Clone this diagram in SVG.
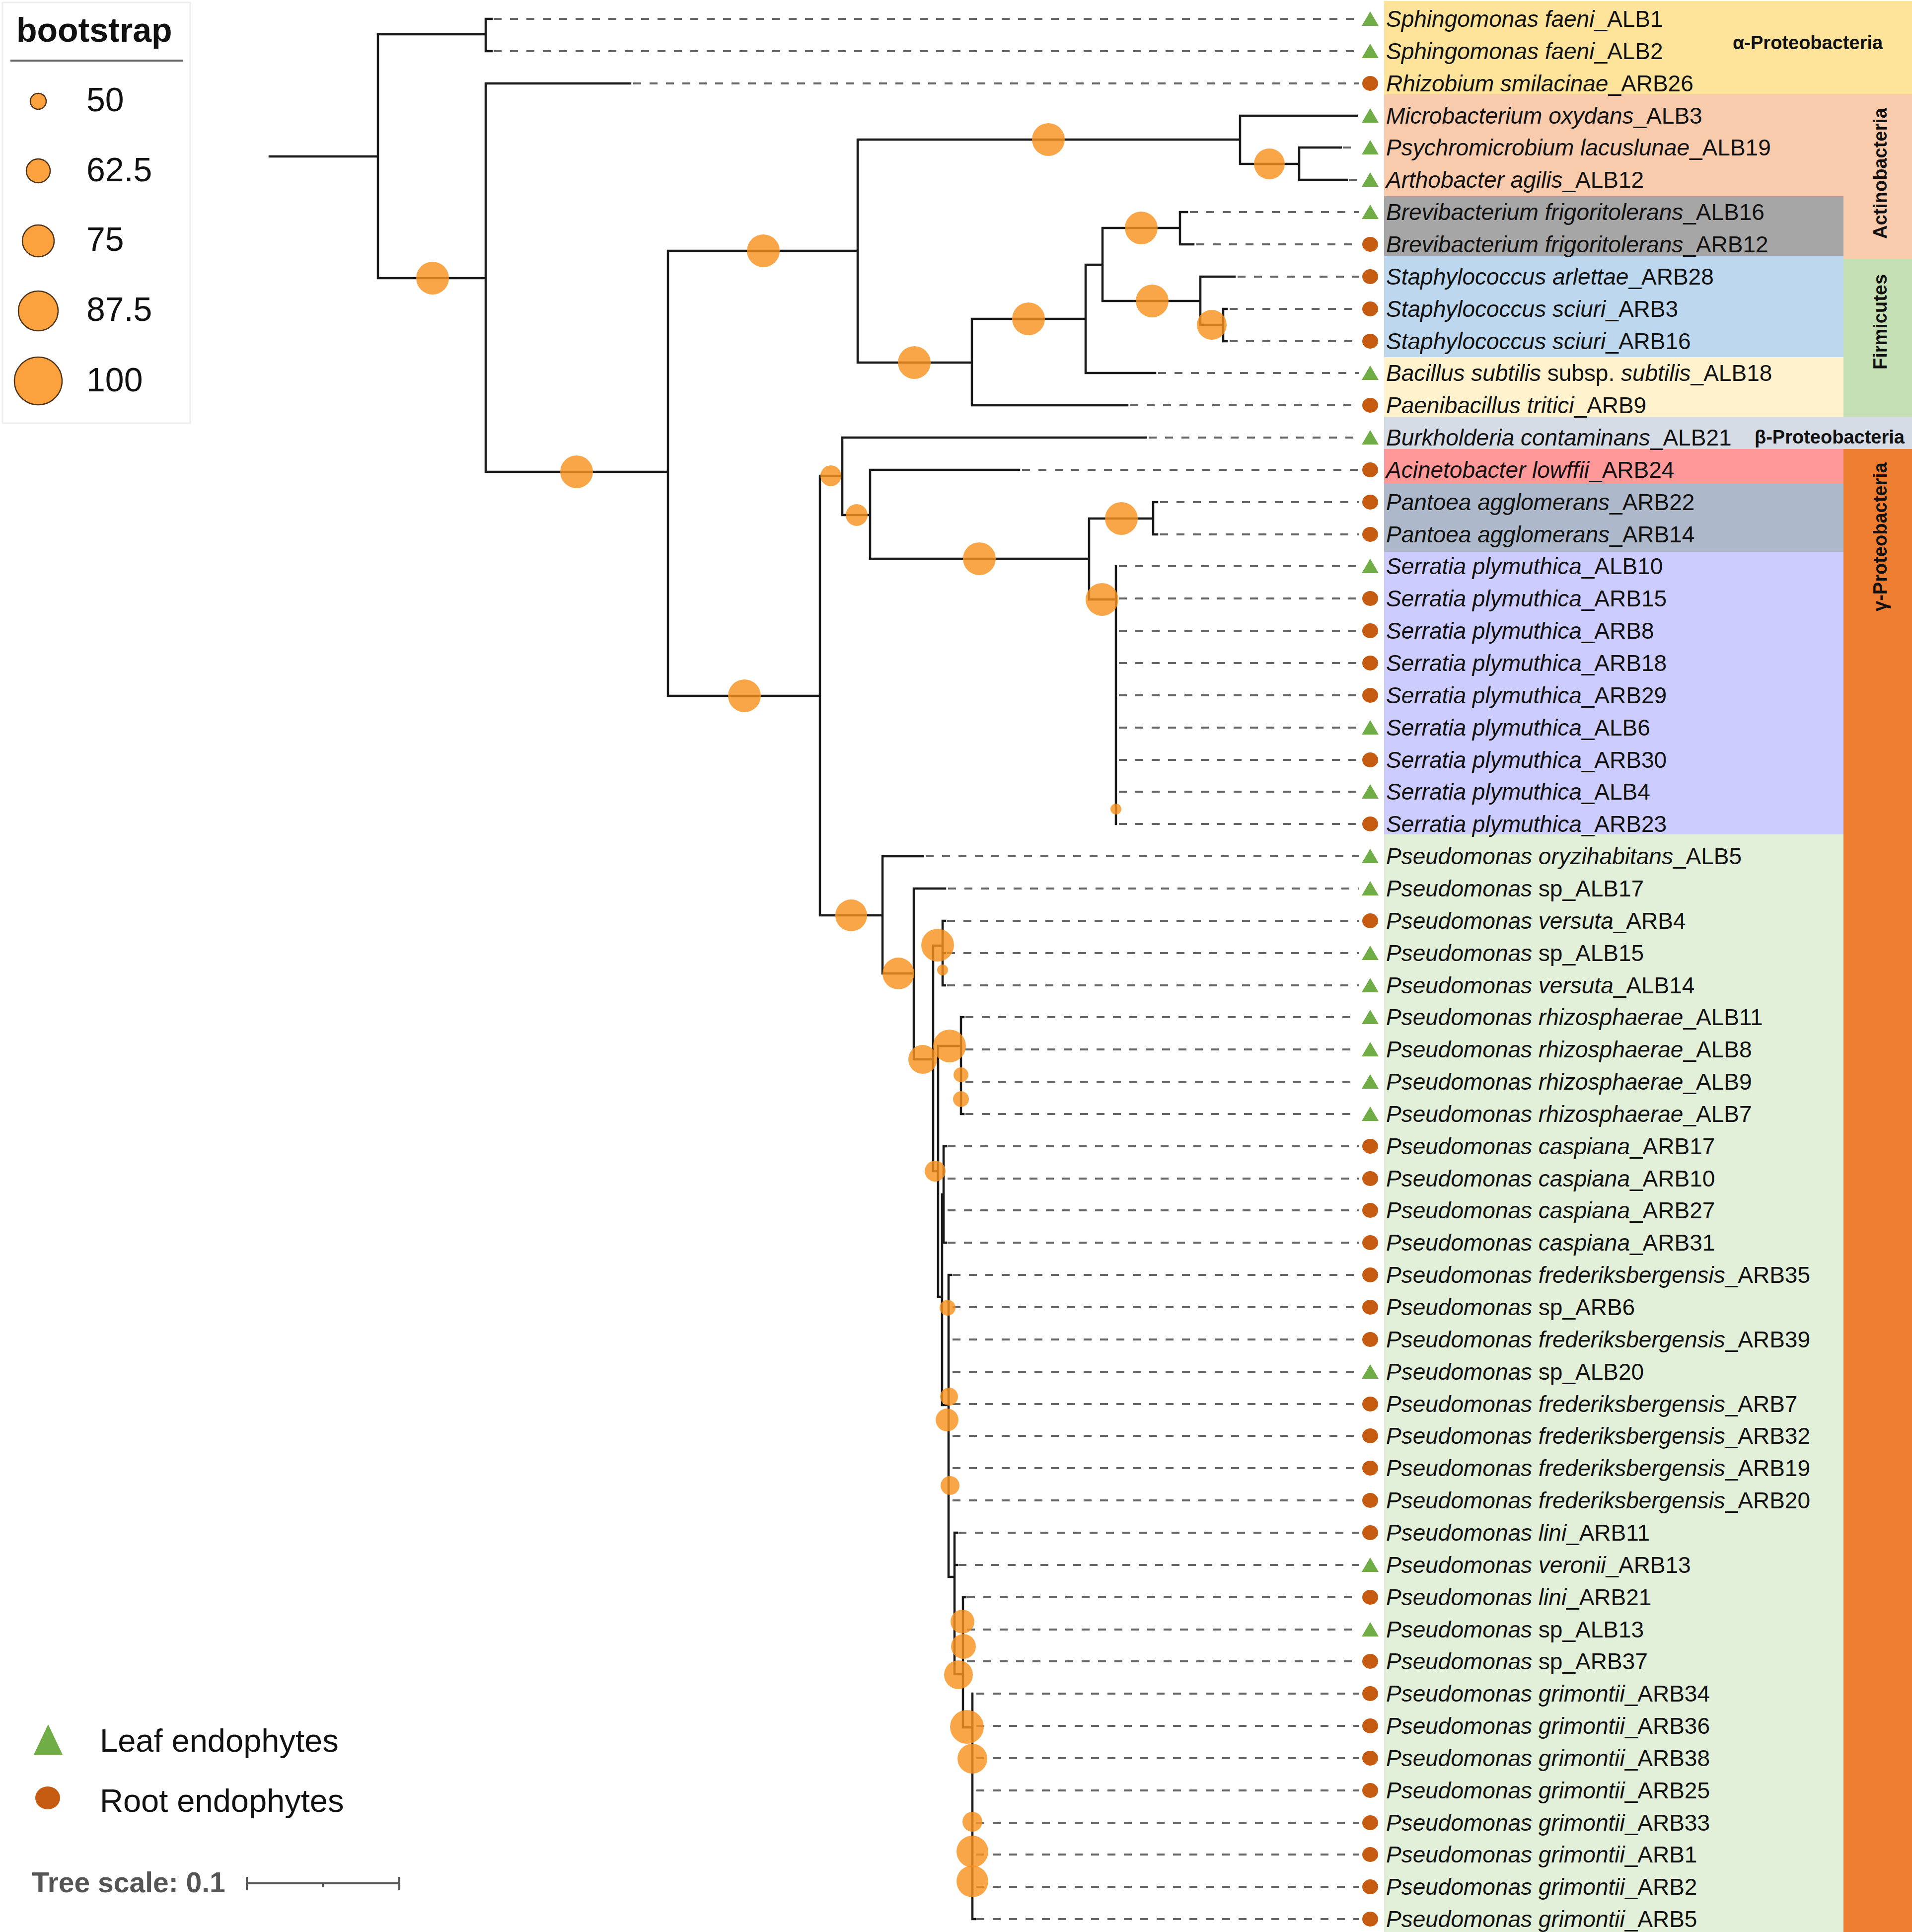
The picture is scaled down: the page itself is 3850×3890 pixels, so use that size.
<svg xmlns="http://www.w3.org/2000/svg" xmlns:xlink="http://www.w3.org/1999/xlink" width="3850" height="3890" viewBox="0 0 3850 3890">
<style>
.br{stroke:#1a1a1a;stroke-width:4.5;fill:none;stroke-linecap:square}
.dash{stroke:#666;stroke-width:4;stroke-dasharray:16 17;fill:none}
.bs{fill:#f7931e;fill-opacity:0.82}
.lf{fill:#70ad47}
.rt{fill:#c55a11}
.lab{font-family:"Liberation Sans",Arial,sans-serif;font-size:46px;fill:#111}
.i{font-style:italic}
.clade{font-family:"Liberation Sans",Arial,sans-serif;font-weight:bold;font-size:38px;fill:#111}
.leg{font-family:"Liberation Sans",Arial,sans-serif;font-size:68px;fill:#111}
.lgc{fill:#fba23f;stroke:#4d3319;stroke-width:2.5}
</style>
<defs>
<path id="tri" d="M0,-15 L17,14 L-17,14 Z"/>
<ellipse id="dot" cx="0" cy="0" rx="16" ry="15"/>
</defs>
<rect width="3850" height="3890" fill="#ffffff"/>

<g id="bands">
<rect x="2787" y="2" width="1063" height="188" fill="#fee49a"/>
<rect x="2787" y="190" width="1063" height="205" fill="#f8cbad"/>
<rect x="3712" y="395" width="138" height="127" fill="#f8cbad"/>
<rect x="2787" y="395" width="925" height="120" fill="#a6a6a6"/>
<rect x="2787" y="515" width="925" height="204" fill="#bdd7ee"/>
<rect x="2787" y="719" width="925" height="120" fill="#fff2cc"/>
<rect x="3712" y="522" width="138" height="317" fill="#c5e0b4"/>
<rect x="2787" y="839" width="1063" height="65" fill="#d6dce5"/>
<rect x="2787" y="904" width="925" height="69" fill="#ff9999"/>
<rect x="2787" y="973" width="925" height="138" fill="#adb9ca"/>
<rect x="2787" y="1111" width="925" height="569" fill="#ccccff"/>
<rect x="2787" y="1680" width="925" height="2210" fill="#e2f0d9"/>
<rect x="3712" y="904" width="138" height="2986" fill="#ed7d31"/>
<text class="clade" x="3489" y="99">α-Proteobacteria</text>
<text class="clade" transform="translate(3799,349) rotate(-90)" text-anchor="middle" font-size="36">Actinobacteria</text>
<text class="clade" transform="translate(3799,648) rotate(-90)" text-anchor="middle" font-size="37">Firmicutes</text>
<text class="clade" x="3533" y="893">β-Proteobacteria</text>
<text class="clade" transform="translate(3799,1081) rotate(-90)" text-anchor="middle">γ-Proteobacteria</text>
</g>

<g id="connectors">
<path class="br" d="M543,315 H761 M761,69 V560 M761,69 H978 M978,38 V103 M978,38 H990 M978,103 H990 M761,560 H978 M978,168 V950 M978,168 H1269 M978,950 H1345 M1345,505 V1401 M1345,505 H1727 M1727,281 V730 M1727,281 H2497 M2497,233 V330 M2497,233 H2732 M2497,330 H2616 M2616,297 V362 M2616,297 H2700 M2616,362 H2712 M1727,730 H1957 M1957,642 V816 M1957,816 H2270 M1957,642 H2186 M2186,533 V751 M2186,751 H2326 M2186,533 H2220 M2220,459 V606 M2220,459 H2376 M2376,427 V492 M2376,427 H2390 M2376,492 H2403 M2220,606 H2417 M2417,557 V654 M2417,557 H2486 M2417,654 H2463 M2463,622 V687 M2463,622 H2470 M2463,687 H2470 M1345,1401 H1651 M1651,958 V1843 M1651,958 H1696 M1696,881 V1037 M1696,881 H2307 M1696,1037 H1752 M1752,946 V1125 M1752,946 H2052 M1752,1125 H2193 M2193,1044 V1207 M2193,1044 H2322 M2322,1011 V1076 M2322,1011 H2330 M2322,1076 H2330 M2193,1207 H2247 M2247,1140 V1659 M1651,1843 H1777 M1777,1724 V1960 M1777,1724 H1858 M1777,1960 H1840 M1840,1789 V2133 M1840,1789 H1903 M1840,2133 H1879 M1879,1904 V2358 M1879,1904 H1898 M1898,1854 V1984 M1898,1854 H1903 M1898,1919 H1903 M1898,1984 H1903 M1879,2358 H1889 M1889,2106 V2611 M1889,2106 H1935 M1935,2048 V2243 M1935,2048 H1940 M1935,2243 H1940 M1889,2611 H1897 M1897,2405 V2829 M1897,2405 H1900 M1900,2308 V2502 M1900,2308 H1905 M1900,2502 H1905 M1897,2829 H1910 M1910,2567 V3175 M1910,2567 H1915 M1910,3175 H1922 M1922,3086 V3371 M1922,3086 H1927 M1922,3151 H1927 M1922,3371 H1939 M1939,3216 V3478 M1939,3216 H1944 M1939,3478 H1958 M1958,3410 V3864 M1958,3864 H1963"/>
<path class="dash" d="M994,38 H2736 M994,103 H2736 M1275,168 H2736 M2704,297 H2736 M2716,362 H2736 M2396,427 H2736 M2409,492 H2736 M2492,557 H2736 M2476,622 H2736 M2476,687 H2736 M2332,751 H2736 M2276,816 H2736 M2313,881 H2736 M2058,946 H2736 M2336,1011 H2736 M2336,1076 H2736 M2253,1140 H2736 M2253,1205 H2736 M2253,1270 H2736 M2253,1335 H2736 M2253,1400 H2736 M2253,1465 H2736 M2253,1530 H2736 M2253,1594 H2736 M2253,1659 H2736 M1864,1724 H2736 M1909,1789 H2736 M1907,1854 H2736 M1907,1919 H2736 M1907,1984 H2736 M1944,2048 H2736 M1944,2113 H2736 M1944,2178 H2736 M1944,2243 H2736 M1908,2308 H2736 M1908,2373 H2736 M1908,2437 H2736 M1908,2502 H2736 M1918,2567 H2736 M1918,2632 H2736 M1918,2697 H2736 M1918,2762 H2736 M1918,2827 H2736 M1918,2891 H2736 M1918,2956 H2736 M1918,3021 H2736 M1930,3086 H2736 M1930,3151 H2736 M1947,3216 H2736 M1947,3281 H2736 M1947,3345 H2736 M1966,3410 H2736 M1966,3475 H2736 M1966,3540 H2736 M1966,3605 H2736 M1966,3670 H2736 M1966,3734 H2736 M1966,3799 H2736 M1966,3864 H2736"/>
</g>

<g id="bootstrap-values">
<circle class="bs" cx="871" cy="560" r="33"/>
<circle class="bs" cx="1161" cy="950" r="33"/>
<circle class="bs" cx="1537" cy="505" r="33"/>
<circle class="bs" cx="2111" cy="281" r="33"/>
<circle class="bs" cx="2556" cy="330" r="31"/>
<circle class="bs" cx="1841" cy="730" r="33"/>
<circle class="bs" cx="2071" cy="642" r="33"/>
<circle class="bs" cx="2298" cy="459" r="33"/>
<circle class="bs" cx="2320" cy="606" r="33"/>
<circle class="bs" cx="2440" cy="654" r="30"/>
<circle class="bs" cx="1499" cy="1401" r="33"/>
<circle class="bs" cx="1673" cy="958" r="21"/>
<circle class="bs" cx="1725" cy="1037" r="22"/>
<circle class="bs" cx="1972" cy="1125" r="33"/>
<circle class="bs" cx="2258" cy="1044" r="33"/>
<circle class="bs" cx="2219" cy="1207" r="33"/>
<circle class="bs" cx="2247" cy="1629" r="11"/>
<circle class="bs" cx="1714" cy="1843" r="32"/>
<circle class="bs" cx="1809" cy="1960" r="32"/>
<circle class="bs" cx="1858" cy="2133" r="29"/>
<circle class="bs" cx="1888" cy="1903" r="33"/>
<circle class="bs" cx="1898" cy="1953" r="11"/>
<circle class="bs" cx="1912" cy="2106" r="33"/>
<circle class="bs" cx="1935" cy="2164" r="15"/>
<circle class="bs" cx="1935" cy="2213" r="16"/>
<circle class="bs" cx="1883" cy="2358" r="21"/>
<circle class="bs" cx="1908" cy="2633" r="16"/>
<circle class="bs" cx="1911" cy="2812" r="18"/>
<circle class="bs" cx="1907" cy="2859" r="23"/>
<circle class="bs" cx="1913" cy="2991" r="19"/>
<circle class="bs" cx="1938" cy="3265" r="24"/>
<circle class="bs" cx="1940" cy="3315" r="25"/>
<circle class="bs" cx="1930" cy="3372" r="29"/>
<circle class="bs" cx="1947" cy="3477" r="34"/>
<circle class="bs" cx="1958" cy="3541" r="30"/>
<circle class="bs" cx="1958" cy="3668" r="20"/>
<circle class="bs" cx="1958" cy="3728" r="32"/>
<circle class="bs" cx="1958" cy="3788" r="32"/>
</g>

<g id="leaf-ALB1"><use href="#tri" class="lf" x="2759" y="38"/><text class="lab" x="2791" y="54"><tspan class="i">Sphingomonas faeni</tspan>_ALB1</text></g>
<g id="leaf-ALB2"><use href="#tri" class="lf" x="2759" y="103"/><text class="lab" x="2791" y="119"><tspan class="i">Sphingomonas faeni</tspan>_ALB2</text></g>
<g id="leaf-ARB26"><use href="#dot" class="rt" x="2759" y="168"/><text class="lab" x="2791" y="184"><tspan class="i">Rhizobium smilacinae</tspan>_ARB26</text></g>
<g id="leaf-ALB3"><use href="#tri" class="lf" x="2759" y="233"/><text class="lab" x="2791" y="249"><tspan class="i">Microbacterium oxydans</tspan>_ALB3</text></g>
<g id="leaf-ALB19"><use href="#tri" class="lf" x="2759" y="297"/><text class="lab" x="2791" y="313"><tspan class="i">Psychromicrobium lacuslunae</tspan>_ALB19</text></g>
<g id="leaf-ALB12"><use href="#tri" class="lf" x="2759" y="362"/><text class="lab" x="2791" y="378"><tspan class="i">Arthobacter agilis</tspan>_ALB12</text></g>
<g id="leaf-ALB16"><use href="#tri" class="lf" x="2759" y="427"/><text class="lab" x="2791" y="443"><tspan class="i">Brevibacterium frigoritolerans</tspan>_ALB16</text></g>
<g id="leaf-ARB12"><use href="#dot" class="rt" x="2759" y="492"/><text class="lab" x="2791" y="508"><tspan class="i">Brevibacterium frigoritolerans</tspan>_ARB12</text></g>
<g id="leaf-ARB28"><use href="#dot" class="rt" x="2759" y="557"/><text class="lab" x="2791" y="573"><tspan class="i">Staphylococcus arlettae</tspan>_ARB28</text></g>
<g id="leaf-ARB3"><use href="#dot" class="rt" x="2759" y="622"/><text class="lab" x="2791" y="638"><tspan class="i">Staphylococcus sciuri</tspan>_ARB3</text></g>
<g id="leaf-ARB16"><use href="#dot" class="rt" x="2759" y="687"/><text class="lab" x="2791" y="703"><tspan class="i">Staphylococcus sciuri</tspan>_ARB16</text></g>
<g id="leaf-ALB18"><use href="#tri" class="lf" x="2759" y="751"/><text class="lab" x="2791" y="767"><tspan class="i">Bacillus subtilis</tspan> subsp. <tspan class="i">subtilis</tspan>_ALB18</text></g>
<g id="leaf-ARB9"><use href="#dot" class="rt" x="2759" y="816"/><text class="lab" x="2791" y="832"><tspan class="i">Paenibacillus tritici</tspan>_ARB9</text></g>
<g id="leaf-ALB21"><use href="#tri" class="lf" x="2759" y="881"/><text class="lab" x="2791" y="897"><tspan class="i">Burkholderia contaminans</tspan>_ALB21</text></g>
<g id="leaf-ARB24"><use href="#dot" class="rt" x="2759" y="946"/><text class="lab" x="2791" y="962"><tspan class="i">Acinetobacter lowffii</tspan>_ARB24</text></g>
<g id="leaf-ARB22"><use href="#dot" class="rt" x="2759" y="1011"/><text class="lab" x="2791" y="1027"><tspan class="i">Pantoea agglomerans</tspan>_ARB22</text></g>
<g id="leaf-ARB14"><use href="#dot" class="rt" x="2759" y="1076"/><text class="lab" x="2791" y="1092"><tspan class="i">Pantoea agglomerans</tspan>_ARB14</text></g>
<g id="leaf-ALB10"><use href="#tri" class="lf" x="2759" y="1140"/><text class="lab" x="2791" y="1156"><tspan class="i">Serratia plymuthica</tspan>_ALB10</text></g>
<g id="leaf-ARB15"><use href="#dot" class="rt" x="2759" y="1205"/><text class="lab" x="2791" y="1221"><tspan class="i">Serratia plymuthica</tspan>_ARB15</text></g>
<g id="leaf-ARB8"><use href="#dot" class="rt" x="2759" y="1270"/><text class="lab" x="2791" y="1286"><tspan class="i">Serratia plymuthica</tspan>_ARB8</text></g>
<g id="leaf-ARB18"><use href="#dot" class="rt" x="2759" y="1335"/><text class="lab" x="2791" y="1351"><tspan class="i">Serratia plymuthica</tspan>_ARB18</text></g>
<g id="leaf-ARB29"><use href="#dot" class="rt" x="2759" y="1400"/><text class="lab" x="2791" y="1416"><tspan class="i">Serratia plymuthica</tspan>_ARB29</text></g>
<g id="leaf-ALB6"><use href="#tri" class="lf" x="2759" y="1465"/><text class="lab" x="2791" y="1481"><tspan class="i">Serratia plymuthica</tspan>_ALB6</text></g>
<g id="leaf-ARB30"><use href="#dot" class="rt" x="2759" y="1530"/><text class="lab" x="2791" y="1546"><tspan class="i">Serratia plymuthica</tspan>_ARB30</text></g>
<g id="leaf-ALB4"><use href="#tri" class="lf" x="2759" y="1594"/><text class="lab" x="2791" y="1610"><tspan class="i">Serratia plymuthica</tspan>_ALB4</text></g>
<g id="leaf-ARB23"><use href="#dot" class="rt" x="2759" y="1659"/><text class="lab" x="2791" y="1675"><tspan class="i">Serratia plymuthica</tspan>_ARB23</text></g>
<g id="leaf-ALB5"><use href="#tri" class="lf" x="2759" y="1724"/><text class="lab" x="2791" y="1740"><tspan class="i">Pseudomonas oryzihabitans</tspan>_ALB5</text></g>
<g id="leaf-ALB17"><use href="#tri" class="lf" x="2759" y="1789"/><text class="lab" x="2791" y="1805"><tspan class="i">Pseudomonas</tspan> sp_ALB17</text></g>
<g id="leaf-ARB4"><use href="#dot" class="rt" x="2759" y="1854"/><text class="lab" x="2791" y="1870"><tspan class="i">Pseudomonas versuta</tspan>_ARB4</text></g>
<g id="leaf-ALB15"><use href="#tri" class="lf" x="2759" y="1919"/><text class="lab" x="2791" y="1935"><tspan class="i">Pseudomonas</tspan> sp_ALB15</text></g>
<g id="leaf-ALB14"><use href="#tri" class="lf" x="2759" y="1984"/><text class="lab" x="2791" y="2000"><tspan class="i">Pseudomonas versuta</tspan>_ALB14</text></g>
<g id="leaf-ALB11"><use href="#tri" class="lf" x="2759" y="2048"/><text class="lab" x="2791" y="2064"><tspan class="i">Pseudomonas rhizosphaerae</tspan>_ALB11</text></g>
<g id="leaf-ALB8"><use href="#tri" class="lf" x="2759" y="2113"/><text class="lab" x="2791" y="2129"><tspan class="i">Pseudomonas rhizosphaerae</tspan>_ALB8</text></g>
<g id="leaf-ALB9"><use href="#tri" class="lf" x="2759" y="2178"/><text class="lab" x="2791" y="2194"><tspan class="i">Pseudomonas rhizosphaerae</tspan>_ALB9</text></g>
<g id="leaf-ALB7"><use href="#tri" class="lf" x="2759" y="2243"/><text class="lab" x="2791" y="2259"><tspan class="i">Pseudomonas rhizosphaerae</tspan>_ALB7</text></g>
<g id="leaf-ARB17"><use href="#dot" class="rt" x="2759" y="2308"/><text class="lab" x="2791" y="2324"><tspan class="i">Pseudomonas caspiana</tspan>_ARB17</text></g>
<g id="leaf-ARB10"><use href="#dot" class="rt" x="2759" y="2373"/><text class="lab" x="2791" y="2389"><tspan class="i">Pseudomonas caspiana</tspan>_ARB10</text></g>
<g id="leaf-ARB27"><use href="#dot" class="rt" x="2759" y="2437"/><text class="lab" x="2791" y="2453"><tspan class="i">Pseudomonas caspiana</tspan>_ARB27</text></g>
<g id="leaf-ARB31"><use href="#dot" class="rt" x="2759" y="2502"/><text class="lab" x="2791" y="2518"><tspan class="i">Pseudomonas caspiana</tspan>_ARB31</text></g>
<g id="leaf-ARB35"><use href="#dot" class="rt" x="2759" y="2567"/><text class="lab" x="2791" y="2583"><tspan class="i">Pseudomonas frederiksbergensis</tspan>_ARB35</text></g>
<g id="leaf-ARB6"><use href="#dot" class="rt" x="2759" y="2632"/><text class="lab" x="2791" y="2648"><tspan class="i">Pseudomonas</tspan> sp_ARB6</text></g>
<g id="leaf-ARB39"><use href="#dot" class="rt" x="2759" y="2697"/><text class="lab" x="2791" y="2713"><tspan class="i">Pseudomonas frederiksbergensis</tspan>_ARB39</text></g>
<g id="leaf-ALB20"><use href="#tri" class="lf" x="2759" y="2762"/><text class="lab" x="2791" y="2778"><tspan class="i">Pseudomonas</tspan> sp_ALB20</text></g>
<g id="leaf-ARB7"><use href="#dot" class="rt" x="2759" y="2827"/><text class="lab" x="2791" y="2843"><tspan class="i">Pseudomonas frederiksbergensis</tspan>_ARB7</text></g>
<g id="leaf-ARB32"><use href="#dot" class="rt" x="2759" y="2891"/><text class="lab" x="2791" y="2907"><tspan class="i">Pseudomonas frederiksbergensis</tspan>_ARB32</text></g>
<g id="leaf-ARB19"><use href="#dot" class="rt" x="2759" y="2956"/><text class="lab" x="2791" y="2972"><tspan class="i">Pseudomonas frederiksbergensis</tspan>_ARB19</text></g>
<g id="leaf-ARB20"><use href="#dot" class="rt" x="2759" y="3021"/><text class="lab" x="2791" y="3037"><tspan class="i">Pseudomonas frederiksbergensis</tspan>_ARB20</text></g>
<g id="leaf-ARB11"><use href="#dot" class="rt" x="2759" y="3086"/><text class="lab" x="2791" y="3102"><tspan class="i">Pseudomonas lini</tspan>_ARB11</text></g>
<g id="leaf-ARB13"><use href="#tri" class="lf" x="2759" y="3151"/><text class="lab" x="2791" y="3167"><tspan class="i">Pseudomonas veronii</tspan>_ARB13</text></g>
<g id="leaf-ARB21"><use href="#dot" class="rt" x="2759" y="3216"/><text class="lab" x="2791" y="3232"><tspan class="i">Pseudomonas lini</tspan>_ARB21</text></g>
<g id="leaf-ALB13"><use href="#tri" class="lf" x="2759" y="3281"/><text class="lab" x="2791" y="3297"><tspan class="i">Pseudomonas</tspan> sp_ALB13</text></g>
<g id="leaf-ARB37"><use href="#dot" class="rt" x="2759" y="3345"/><text class="lab" x="2791" y="3361"><tspan class="i">Pseudomonas</tspan> sp_ARB37</text></g>
<g id="leaf-ARB34"><use href="#dot" class="rt" x="2759" y="3410"/><text class="lab" x="2791" y="3426"><tspan class="i">Pseudomonas grimontii</tspan>_ARB34</text></g>
<g id="leaf-ARB36"><use href="#dot" class="rt" x="2759" y="3475"/><text class="lab" x="2791" y="3491"><tspan class="i">Pseudomonas grimontii</tspan>_ARB36</text></g>
<g id="leaf-ARB38"><use href="#dot" class="rt" x="2759" y="3540"/><text class="lab" x="2791" y="3556"><tspan class="i">Pseudomonas grimontii</tspan>_ARB38</text></g>
<g id="leaf-ARB25"><use href="#dot" class="rt" x="2759" y="3605"/><text class="lab" x="2791" y="3621"><tspan class="i">Pseudomonas grimontii</tspan>_ARB25</text></g>
<g id="leaf-ARB33"><use href="#dot" class="rt" x="2759" y="3670"/><text class="lab" x="2791" y="3686"><tspan class="i">Pseudomonas grimontii</tspan>_ARB33</text></g>
<g id="leaf-ARB1"><use href="#dot" class="rt" x="2759" y="3734"/><text class="lab" x="2791" y="3750"><tspan class="i">Pseudomonas grimontii</tspan>_ARB1</text></g>
<g id="leaf-ARB2"><use href="#dot" class="rt" x="2759" y="3799"/><text class="lab" x="2791" y="3815"><tspan class="i">Pseudomonas grimontii</tspan>_ARB2</text></g>
<g id="leaf-ARB5"><use href="#dot" class="rt" x="2759" y="3864"/><text class="lab" x="2791" y="3880"><tspan class="i">Pseudomonas grimontii</tspan>_ARB5</text></g>

<g id="legend-bootstrap">
<rect x="5" y="5" width="378" height="847" fill="#ffffff" stroke="#eeeeee" stroke-width="3"/>
<text x="33" y="84" font-family="'Liberation Sans',Arial,sans-serif" font-weight="bold" font-size="68" fill="#111">bootstrap</text>
<line x1="21" y1="122" x2="369" y2="122" stroke="#666" stroke-width="4"/>
<circle class="lgc" cx="77" cy="204" r="16"/>
<circle class="lgc" cx="77" cy="344" r="24"/>
<circle class="lgc" cx="77" cy="485" r="32"/>
<circle class="lgc" cx="77" cy="626" r="40"/>
<circle class="lgc" cx="77" cy="767" r="48"/>
<text class="leg" x="174" y="224">50</text>
<text class="leg" x="174" y="365">62.5</text>
<text class="leg" x="174" y="505">75</text>
<text class="leg" x="174" y="646">87.5</text>
<text class="leg" x="174" y="788">100</text>
</g>

<g id="legend-endophytes">
<path d="M97,3472 L126,3533 L68,3533 Z" class="lf"/>
<text x="201" y="3527" font-family="'Liberation Sans',Arial,sans-serif" font-size="65" fill="#111">Leaf endophytes</text>
<ellipse cx="96" cy="3620" rx="25" ry="23" class="rt"/>
<text x="201" y="3648" font-family="'Liberation Sans',Arial,sans-serif" font-size="65" fill="#111">Root endophytes</text>
</g>

<g id="tree-scale">
<text x="64" y="3810" font-family="'Liberation Sans',Arial,sans-serif" font-weight="bold" font-size="57" fill="#555">Tree scale: 0.1</text>
<path d="M497,3779 V3806 M497,3792 H804 M804,3779 V3806 M650,3792 V3800" stroke="#555" stroke-width="4" fill="none"/>
</g>
</svg>
